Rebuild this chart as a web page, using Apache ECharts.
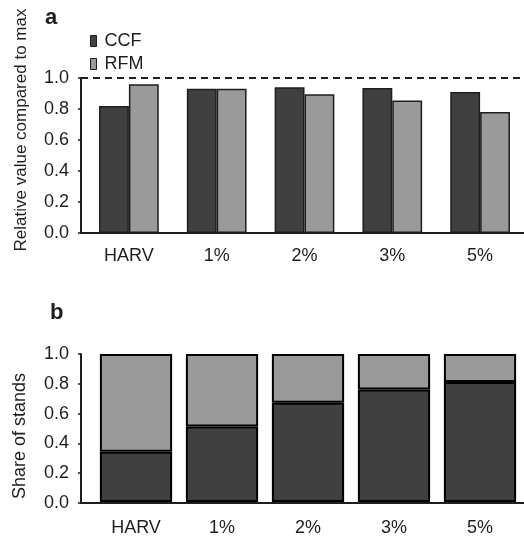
<!DOCTYPE html>
<html>
	<head>
		<meta charset="UTF-8">
		<title>CCF / RFM</title>
		<script src="https://cdn.jsdelivr.net/npm/echarts@6/dist/echarts.min.js"></script>
		<style>
			html, body { margin: 0; padding: 0; background: #fff; }
			#chart { width: 524px; height: 537px; }
		</style>
	</head>
	<body>
		<div id="chart"></div>
		<script type="text/javascript">
			// data
			var categories = ['HARV', '1%', '2%', '3%', '5%'];
			var ccfRelative = [0.82, 0.93, 0.94, 0.935, 0.91];
			var rfmRelative = [0.96, 0.93, 0.895, 0.855, 0.78];
			var ccfShare = [0.34, 0.51, 0.67, 0.76, 0.81];
			var rfmShare = [0.66, 0.49, 0.33, 0.24, 0.19];

			var dark = '#404040';
			var light = '#9a9a9a';
			var ink = '#1e1e1e';
			var font = 'Liberation Sans';

			var myChart = echarts.init(document.getElementById('chart'));

			// helper axes: y axis + baseline drawn from the left edge
			function frameY(grid) {
				return {
					type: 'value', gridIndex: grid, min: 0, max: 1, interval: 0.2,
					axisLine: { show: true, lineStyle: { color: ink, width: 2 } },
					axisTick: { show: true, length: 3, lineStyle: { color: ink, width: 1.5 } },
					axisLabel: { margin: 12, fontSize: 18, color: ink, fontFamily: font,
						formatter: function (v) { return v.toFixed(1); } },
					splitLine: { show: false }
				};
			}
			function frameX(grid) {
				return {
					type: 'value', gridIndex: grid, min: 0, max: 1,
					axisLine: { show: true, onZero: false, lineStyle: { color: ink, width: 2 } },
					axisTick: { show: false }, axisLabel: { show: false }, splitLine: { show: false }
				};
			}
			function barsX(grid, margin) {
				return {
					type: 'category', gridIndex: grid, data: categories,
					axisLine: { show: false }, axisTick: { show: false },
					axisLabel: { margin: margin, fontSize: 18, color: ink, fontFamily: font }
				};
			}
			function barsY(grid) {
				return { type: 'value', gridIndex: grid, min: 0, max: 1, show: false, splitLine: { show: false } };
			}

			var option = {
				animation: false,
				textStyle: { fontFamily: font },
				grid: [
					{ left: 85, top: 78, width: 446, height: 155 },
					{ left: 81, top: 78, right: 0, height: 155 },
					{ left: 93, top: 354, width: 430, height: 149 },
					{ left: 81, top: 354, right: 0, height: 149 }
				],
				xAxis: [barsX(0, 14), frameX(1), barsX(2, 17), frameX(3)],
				yAxis: [barsY(0), frameY(1), barsY(2), frameY(3)],
				legend: {
					orient: 'vertical', left: 90, top: 32, padding: 0, itemGap: 5,
					itemWidth: 6, itemHeight: 11, icon: 'rect',
					data: ['CCF', 'RFM'],
					textStyle: { fontSize: 18, lineHeight: 18, color: ink, fontFamily: font, padding: [0, 0, 0, 3] },
					itemStyle: { borderColor: ink, borderWidth: 1 }
				},
				graphic: [
					{ type: 'text', left: 45, top: 7, style: { text: 'a', fontSize: 22, fontWeight: 'bold', fill: ink, fontFamily: font } },
					{ type: 'text', left: 50, top: 302, style: { text: 'b', fontSize: 22, fontWeight: 'bold', fill: ink, fontFamily: font } },
					{ type: 'text', x: 21, y: 130, rotation: Math.PI / 2,
						style: { text: 'Relative value compared to max', fontSize: 17, fill: ink, fontFamily: font, align: 'center', verticalAlign: 'middle' } },
					{ type: 'text', x: 20, y: 436, rotation: Math.PI / 2,
						style: { text: 'Share of stands', fontSize: 18, fill: ink, fontFamily: font, align: 'center', verticalAlign: 'middle' } }
				],
				series: [
					// panel a
					{ name: 'CCF', type: 'bar', xAxisIndex: 0, yAxisIndex: 0, data: ccfRelative,
						barGap: '0%', barCategoryGap: '32%',
						itemStyle: { color: dark, borderColor: ink, borderWidth: 1.5 } },
					{ name: 'RFM', type: 'bar', xAxisIndex: 0, yAxisIndex: 0, data: rfmRelative,
						barGap: '0%', barCategoryGap: '32%',
						itemStyle: { color: light, borderColor: ink, borderWidth: 1.5 } },
					// dashed reference at 1.0
					{ name: 'max', type: 'line', xAxisIndex: 1, yAxisIndex: 1, data: [],
						markLine: { silent: true, symbol: 'none', label: { show: false },
							lineStyle: { type: [7, 5], color: ink, width: 2 },
							data: [{ yAxis: 1 }] } },
					// panel b (stacked shares)
					{ name: 'CCF', type: 'bar', stack: 'share', xAxisIndex: 2, yAxisIndex: 2, data: ccfShare,
						barCategoryGap: '16%',
						itemStyle: { color: dark, borderColor: '#000', borderWidth: 2 } },
					{ name: 'RFM', type: 'bar', stack: 'share', xAxisIndex: 2, yAxisIndex: 2, data: rfmShare,
						barCategoryGap: '16%',
						itemStyle: { color: light, borderColor: '#000', borderWidth: 2 } }
				]
			};
			myChart.setOption(option);
		</script>
	</body>
</html>
